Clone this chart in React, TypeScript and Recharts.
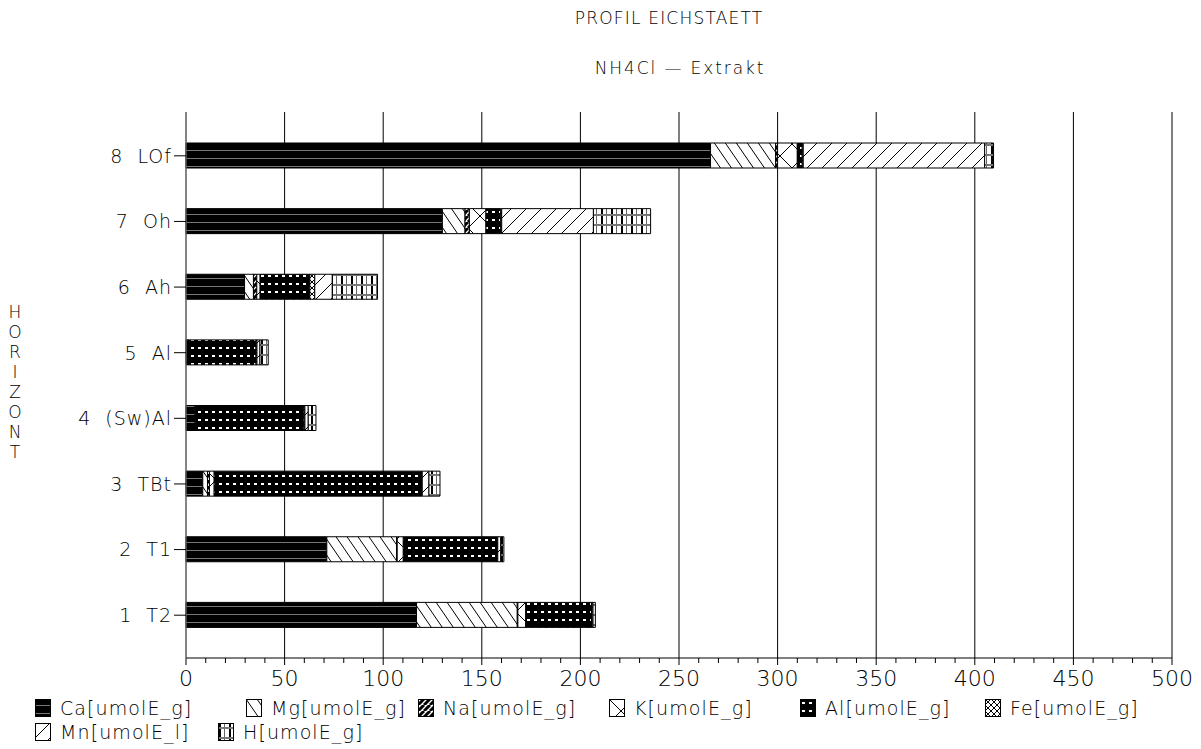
import React from 'react'
import { BarChart, Bar, XAxis, YAxis, CartesianGrid } from 'recharts'

// Horizonte von oben nach unten
const horizons = ['8  LOf', '7  Oh', '6  Ah', '5  Al', '4  (Sw)Al', '3  TBt', '2  T1', '1  T2']

// Werte je Kation (umolE/g), gleiche Reihenfolge wie horizons
const caValues = [266, 130, 29.7, 0.5, 4.6, 8.5, 71.4, 116.9]
const mgValues = [33, 11.5, 4.5, 0.3, 0.4, 2.4, 35.4, 51.1]
const naValues = [1, 2.2, 1.7, 0.2, 0.2, 1, 0.3, 0.3]
const kValues = [10, 8.4, 1.7, 0.3, 0.2, 2.4, 3.1, 4.0]
const alValues = [2.5, 7.5, 25.2, 34.2, 54.4, 105.2, 47.6, 33.3]
const feValues = [0.5, 0.5, 2.5, 0.5, 0.5, 0.3, 0.3, 0.3]
const mnValues = [92, 46.5, 8.9, 1.5, 1.7, 3.4, 1.5, 0.5]
const hValues = [4.5, 29, 22.9, 4.2, 3.9, 5.6, 1.6, 1.2]

const xTicks = [0, 50, 100, 150, 200, 250, 300, 350, 400, 450, 500]
const xMinorTicks = Array.from({ length: 51 }, (_, i) => i * 10)

const seriesKeys = ['Ca', 'Mg', 'Na', 'K', 'Al', 'Fe', 'Mn', 'H']
const seriesLabels = [
  'Ca[umolE_g]',
  'Mg[umolE_g]',
  'Na[umolE_g]',
  'K[umolE_g]',
  'Al[umolE_g]',
  'Fe[umolE_g]',
  'Mn[umolE_l]',
  'H[umolE_g]',
]

const title = 'PROFIL EICHSTAETT'
const subtitle = 'NH4Cl — Extrakt'
const yLabel = 'HORIZONT'

const data = horizons.map((horizon, i) => ({
  horizon,
  Ca: caValues[i],
  Mg: mgValues[i],
  Na: naValues[i],
  K: kValues[i],
  Al: alValues[i],
  Fe: feValues[i],
  Mn: mnValues[i],
  H: hValues[i],
}))

const FONT = '"DejaVu Sans", sans-serif'

// Schraffuren wie im Plotter-Original
function Patterns() {
  return (
    <svg width={0} height={0} style={{ position: 'absolute', left: 0, top: 0 }}>
      <defs>
        <pattern id="pat-Ca" width={6} height={8} patternUnits="userSpaceOnUse">
          <rect width={6} height={8} fill="#000" />
          <line x1={0} y1={6.5} x2={6} y2={6.5} stroke="#777" strokeWidth={1} />
        </pattern>
        <pattern id="pat-Mg" width={11} height={16} patternUnits="userSpaceOnUse">
          <rect width={11} height={16} fill="#fff" />
          <path d="M0,0 L11,16 M-11,0 L0,16 M11,0 L22,16" stroke="#000" strokeWidth={1} />
        </pattern>
        <pattern id="pat-Na" width={6} height={6} patternUnits="userSpaceOnUse">
          <rect width={6} height={6} fill="#fff" />
          <path d="M0,6 L6,0 M-6,6 L0,0 M6,6 L12,0" stroke="#000" strokeWidth={3} />
        </pattern>
        <pattern id="pat-K" width={24} height={24} patternUnits="userSpaceOnUse">
          <rect width={24} height={24} fill="#fff" />
          <path d="M0,0 L24,24 M24,0 L0,24" stroke="#000" strokeWidth={1} />
        </pattern>
        <pattern id="pat-Al" width={7} height={8} patternUnits="userSpaceOnUse">
          <rect width={7} height={8} fill="#000" />
          <rect x={2} y={3} width={3} height={2} fill="#fff" />
        </pattern>
        <pattern id="pat-Fe" width={6} height={6} patternUnits="userSpaceOnUse">
          <rect width={6} height={6} fill="#fff" />
          <path d="M0,0 L6,6 M6,0 L0,6" stroke="#000" strokeWidth={1} />
        </pattern>
        <pattern id="pat-Mn" width={15} height={15} patternUnits="userSpaceOnUse">
          <rect width={15} height={15} fill="#fff" />
          <path d="M0,15 L15,0 M-15,15 L0,0 M15,15 L30,0" stroke="#000" strokeWidth={1} />
        </pattern>
        <pattern id="pat-H" width={10} height={10} patternUnits="userSpaceOnUse">
          <rect width={10} height={10} fill="#fff" />
          <rect x={1} y={0} width={2} height={10} fill="#000" />
          <rect x={6} y={0} width={1} height={10} fill="#666" />
          <rect x={0} y={4} width={10} height={2} fill="#777" />
        </pattern>
      </defs>
    </svg>
  )
}

// Teilstrich alle 10, Beschriftung nur alle 50
// eslint-disable-next-line @typescript-eslint/no-explicit-any
function XTick({ x, y, payload }: any) {
  const major = payload.value % 50 === 0
  return (
    <g>
      <line x1={x} y1={y} x2={x} y2={y + (major ? 7 : 5)} stroke="#000" strokeWidth={1} />
      {major && (
        <text
          x={x}
          y={y + 10}
          dy="0.8em"
          textAnchor="middle"
          fontFamily={FONT}
          fontWeight={200}
          fontSize={22}
          fill="#000"
        >
          {payload.value}
        </text>
      )}
    </g>
  )
}

// eslint-disable-next-line @typescript-eslint/no-explicit-any
function YTick({ x, y, payload }: any) {
  return (
    <text
      x={x}
      y={y}
      dy="0.36em"
      textAnchor="end"
      fontFamily={FONT}
      fontWeight={200}
      fontSize={19}
      fill="#000"
      style={{ letterSpacing: 1, whiteSpace: 'pre' }}
    >
      {payload.value}
    </text>
  )
}

const legendPos = [
  { left: 35, top: 698 },
  { left: 246, top: 698 },
  { left: 418, top: 698 },
  { left: 609, top: 698 },
  { left: 800, top: 698 },
  { left: 985, top: 698 },
  { left: 35, top: 722 },
  { left: 218, top: 722 },
]

function ChartLegend() {
  return (
    <>
      {seriesKeys.map((key, i) => (
        <div
          key={key}
          style={{
            position: 'absolute',
            left: legendPos[i].left,
            top: legendPos[i].top,
            display: 'flex',
            alignItems: 'center',
            gap: 9,
            fontFamily: FONT,
            fontWeight: 200,
            fontSize: 19,
            letterSpacing: 1.1,
            lineHeight: '20px',
            whiteSpace: 'nowrap',
          }}
        >
          <svg width={16} height={18}>
            <rect x={0.5} y={0.5} width={15} height={17} fill={`url(#pat-${key})`} stroke="#000" />
          </svg>
          <span>{seriesLabels[i]}</span>
        </div>
      ))}
    </>
  )
}

export default function App() {
  return (
    <div style={{ position: 'absolute', left: 0, top: 0, width: 1201, height: 749, background: '#fff' }}>
      <Patterns />
      <div
        style={{
          position: 'absolute',
          left: 469,
          width: 400,
          top: 8,
          textAlign: 'center',
          fontFamily: FONT,
          fontWeight: 200,
          fontSize: 17,
          letterSpacing: 1.2,
          lineHeight: '20px',
        }}
      >
        {title}
      </div>
      <div
        style={{
          position: 'absolute',
          left: 480,
          width: 400,
          top: 58,
          textAlign: 'center',
          fontFamily: FONT,
          fontWeight: 200,
          fontSize: 17,
          letterSpacing: 1.9,
          lineHeight: '20px',
          whiteSpace: 'pre',
        }}
      >
        {subtitle}
      </div>
      <div
        style={{
          position: 'absolute',
          left: 3,
          width: 24,
          top: 302,
          textAlign: 'center',
          fontFamily: FONT,
          fontWeight: 200,
          fontSize: 17,
          lineHeight: '20px',
        }}
      >
        {yLabel.split('').map((c, i) => (
          <div key={i}>{c}</div>
        ))}
      </div>
      <BarChart
        width={1201}
        height={749}
        data={data}
        layout="vertical"
        margin={{ top: 112, right: 29, bottom: 61, left: 0 }}
        barSize={25}
      >
        <CartesianGrid horizontal={false} verticalValues={xTicks} stroke="#000" strokeWidth={1} />
        <XAxis
          type="number"
          domain={[0, 500]}
          ticks={xMinorTicks}
          interval={0}
          height={30}
          tickSize={0}
          tickMargin={0}
          tick={<XTick />}
          tickLine={false}
          axisLine={{ stroke: '#000' }}
        />
        <YAxis
          type="category"
          dataKey="horizon"
          width={186}
          tickSize={12}
          tickMargin={2}
          padding={{ top: 11, bottom: 10 }}
          tick={<YTick />}
          axisLine={{ stroke: '#888' }}
          tickLine={{ stroke: '#000' }}
        />
        {seriesKeys.map((key) => (
          <Bar
            key={key}
            dataKey={key}
            stackId="s"
            fill={`url(#pat-${key})`}
            stroke="#000"
            strokeWidth={1}
            isAnimationActive={false}
          />
        ))}
      </BarChart>
      <ChartLegend />
    </div>
  )
}
